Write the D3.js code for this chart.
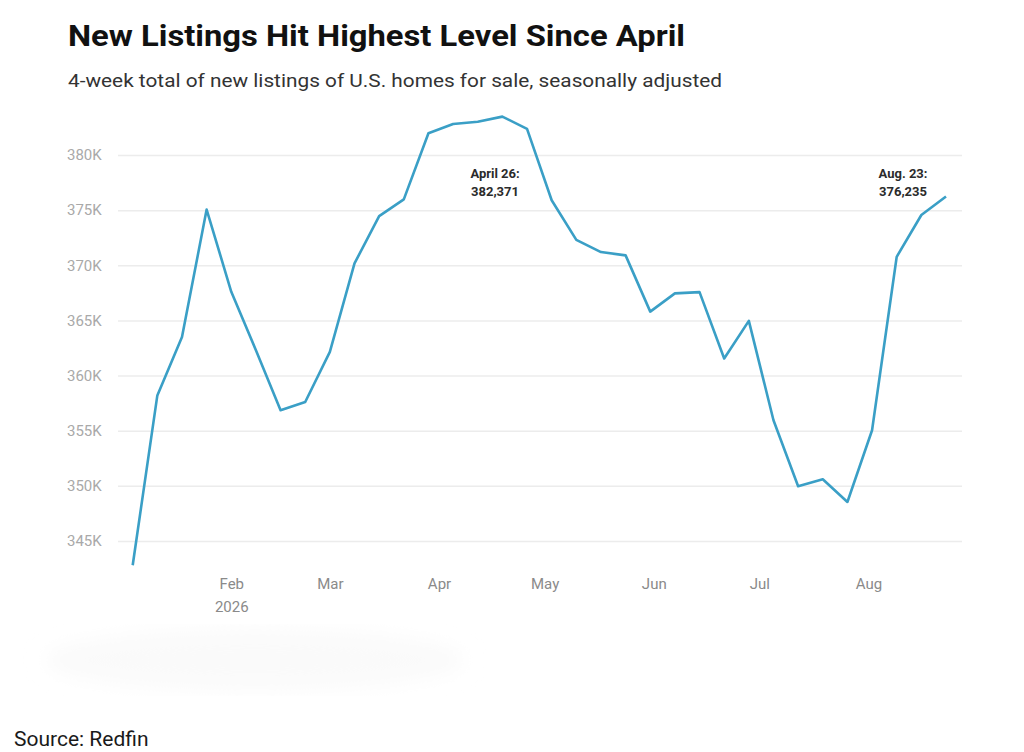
<!DOCTYPE html>
<html>
<head>
<meta charset="utf-8">
<script src="https://cdn.jsdelivr.net/npm/d3@7"></script>
<style>
  body { margin: 0; background: #fff; }
  svg text { font-family: Roboto, "Noto Sans", sans-serif; }
</style>
</head>
<body>
<div id="chart"></div>
<script>
// weekly dates (Sundays), 4-week totals
const weeks = [
  '2026-01-04','2026-01-11','2026-01-18','2026-01-25','2026-02-01','2026-02-08','2026-02-15','2026-02-22',
  '2026-03-01','2026-03-08','2026-03-15','2026-03-22','2026-03-29','2026-04-05','2026-04-12','2026-04-19',
  '2026-04-26','2026-05-03','2026-05-10','2026-05-17','2026-05-24','2026-05-31','2026-06-07','2026-06-14',
  '2026-06-21','2026-06-28','2026-07-05','2026-07-12','2026-07-19','2026-07-26','2026-08-02','2026-08-09',
  '2026-08-16','2026-08-23'
];
const listings = [
  342800, 358200, 363500, 375050, 367600, 362300, 356860, 357600,
  362150, 370170, 374460, 375980, 381970, 382810, 383020, 383480,
  382371, 375900, 372300, 371200, 370900, 365800, 367450, 367570,
  361550, 364960, 355950, 349960, 350600, 348540, 355040, 370770,
  374560, 376235
];
const yTicks = [345000, 350000, 355000, 360000, 365000, 370000, 375000, 380000];
const monthTicks = ['2026-02-01','2026-03-01','2026-04-01','2026-05-01','2026-06-01','2026-07-01','2026-08-01'];
const callouts = [
  { date: '2026-04-26', lines: ['April 26:', '382,371'], dx: -32 },
  { date: '2026-08-23', lines: ['Aug. 23:', '376,235'], dx: -43 }
];

const width = 1024, height = 752;
const parse = d3.timeParse('%Y-%m-%d');
const data = weeks.map((w, i) => ({ date: parse(w), value: listings[i] }));

const svg = d3.select('#chart').append('svg')
  .attr('width', width).attr('height', height);

// faint smudge bottom-left, as in the photo
const defs = svg.append('defs');
defs.append('filter').attr('id', 'blur').append('feGaussianBlur').attr('stdDeviation', 10);
svg.append('ellipse')
  .attr('cx', 255).attr('cy', 660).attr('rx', 210).attr('ry', 30)
  .attr('fill', '#fafafa').attr('filter', 'url(#blur)');

svg.append('text')
  .attr('x', 68).attr('y', 46)
  .attr('font-size', 29).attr('font-weight', 700).attr('fill', '#111')
  .attr('textLength', 617).attr('lengthAdjust', 'spacingAndGlyphs')
  .text('New Listings Hit Highest Level Since April');

svg.append('text')
  .attr('x', 68).attr('y', 87)
  .attr('font-size', 19).attr('fill', '#333')
  .attr('textLength', 654).attr('lengthAdjust', 'spacingAndGlyphs')
  .text('4-week total of new listings of U.S. homes for sale, seasonally adjusted');

const x = d3.scaleTime()
  .domain([data[0].date, data[data.length - 1].date])
  .range([132.7, 946]);

const y = d3.scaleLinear()
  .domain([345000, 380000])
  .range([541, 155]);

// gridlines + y labels
const yAxis = d3.axisLeft(y)
  .tickValues(yTicks)
  .tickSize(-(962 - 118))
  .tickPadding(9)
  .tickFormat(d => d3.format('d')(d / 1000) + 'K');

svg.append('g')
  .attr('transform', 'translate(118,0)')
  .call(yAxis)
  .call(g => g.select('.domain').remove())
  .call(g => g.selectAll('.tick line').attr('stroke', '#ececec').attr('stroke-width', 1.5))
  .call(g => g.selectAll('.tick text')
    .attr('x', -51).attr('text-anchor', 'start')
    .attr('font-size', 15).attr('fill', '#a9a9a9')
    .attr('font-family', 'Roboto, sans-serif'));

// month labels
const xAxis = d3.axisBottom(x)
  .tickValues(monthTicks.map(parse))
  .tickSize(0)
  .tickPadding(0)
  .tickFormat(d3.timeFormat('%b'));

const xg = svg.append('g')
  .attr('transform', 'translate(0,578)')
  .call(xAxis)
  .call(g => g.select('.domain').remove())
  .call(g => g.selectAll('.tick text')
    .attr('font-size', 15).attr('fill', '#8a8a8a')
    .attr('font-family', 'Roboto, sans-serif'));

xg.selectAll('.tick').filter((d, i) => i === 0)
  .append('text')
  .attr('y', 23).attr('dy', '0.71em')
  .attr('text-anchor', 'middle')
  .attr('font-size', 15).attr('fill', '#8a8a8a')
  .attr('font-family', 'Roboto, sans-serif')
  .text('2026');

// line
const line = d3.line()
  .x(d => x(d.date))
  .y(d => y(d.value));

svg.append('path')
  .datum(data)
  .attr('fill', 'none')
  .attr('stroke', '#3a9fc6')
  .attr('stroke-width', 2.6)
  .attr('stroke-linejoin', 'round')
  .attr('d', line);

// callouts
callouts.forEach(c => {
  const t = svg.append('text')
    .attr('x', x(parse(c.date)) + c.dx)
    .attr('y', 178)
    .attr('text-anchor', 'middle')
    .attr('font-size', 13).attr('font-weight', 700).attr('fill', '#2b2b2b');
  c.lines.forEach((l, i) => {
    t.append('tspan')
      .attr('x', x(parse(c.date)) + c.dx)
      .attr('dy', i === 0 ? 0 : 17.5)
      .text(l);
  });
});

svg.append('text')
  .attr('x', 14).attr('y', 746)
  .attr('font-size', 21).attr('fill', '#1a1a1a')
  .attr('font-family', '"Liberation Sans", Arial, sans-serif')
  .text('Source: Redfin');
</script>
</body>
</html>
